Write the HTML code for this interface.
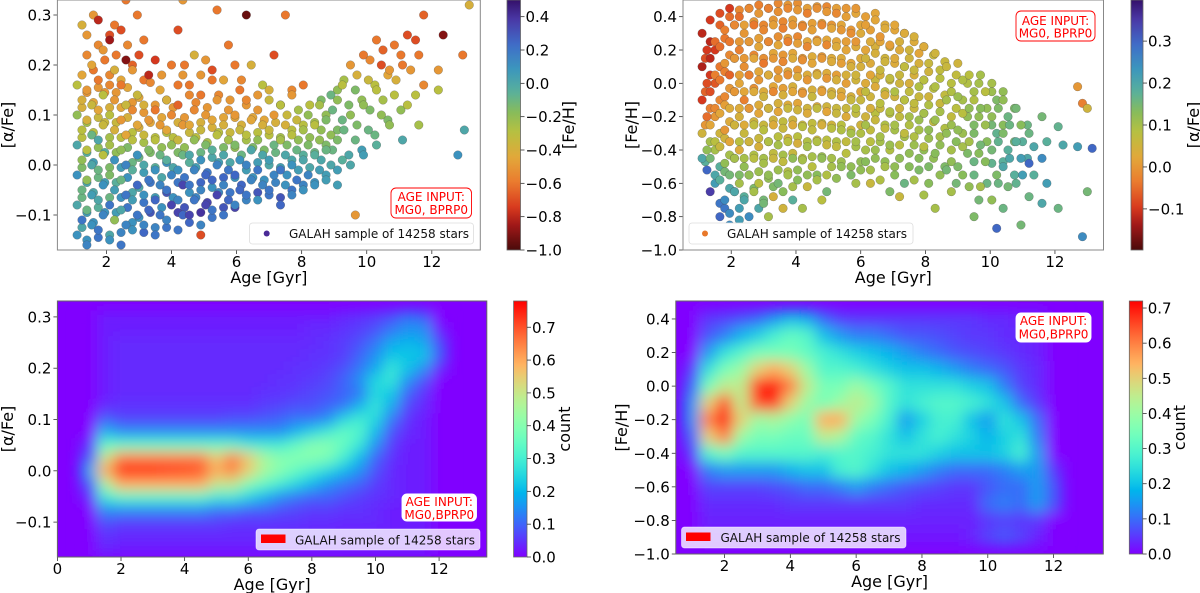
<!DOCTYPE html>
<html><head><meta charset="utf-8">
<style>
html,body{margin:0;padding:0;background:#fff;}
svg{display:block;font-family:"DejaVu Sans","Liberation Sans",sans-serif;}
</style></head>
<body>
<svg id="fig" xmlns="http://www.w3.org/2000/svg" width="1200" height="593" viewBox="0 0 1200 593">
<defs>
<filter id="blur" x="-10%" y="-10%" width="120%" height="120%"><feGaussianBlur stdDeviation="7"/></filter>
<clipPath id="clip1"><rect x="57.4" y="0" width="422.9" height="250"/></clipPath>
<clipPath id="clip2"><rect x="683" y="0" width="420" height="250"/></clipPath>
<clipPath id="clip3"><rect x="57.4" y="301" width="429.4" height="256"/></clipPath>
<clipPath id="clip4"><rect x="675.8" y="301" width="427.5" height="253"/></clipPath>
</defs>
</svg>
<script>
// ---------- DATA ----------
// Panel 1: [alpha/Fe] vs age, coloured by [Fe/H]
const p1ColAge=[1.1,1.4,1.75,2.1,2.45,2.8,3.15,3.5,3.85,4.2,4.55,4.9,5.25,5.6,5.95,6.3,6.65,7.0,7.35,7.7,8.05,8.4,8.75,9.1,9.5,9.9,10.3,10.7,11.1,11.6,12.2,12.8,13.0];
const p1Alpha=[
[-.14,-.11,-.08,-.05,-.02,.01,.04,.07,.1,.13,.16],
[-.16,-.12,-.09,-.06,-.03,0,.03,.06,.09,.12,.15,.2,.26],
[-.13,-.1,-.07,-.04,-.01,.02,.05,.08,.11,.14,.17,.23,.29],
[-.15,-.11,-.08,-.05,-.02,.01,.04,.07,.1,.13,.16,.19,.25,.28],
[-.16,-.12,-.09,-.06,-.03,0,.03,.06,.09,.12,.16,.21,.27,.33],
[-.13,-.1,-.07,-.04,-.01,.02,.05,.08,.11,.14,.19,.3],
[-.12,-.09,-.06,-.03,0,.03,.06,.09,.12,.18,.25],
[-.14,-.1,-.07,-.04,-.01,.02,.05,.08,.11,.15,.21],
[-.11,-.08,-.05,-.02,.01,.04,.07,.1,.13,.2],
[-.13,-.1,-.07,-.04,-.01,.02,.05,.08,.12,.18,.27,.33],
[-.1,-.07,-.04,-.01,.02,.05,.08,.11,.16,.22],
[-.12,-.08,-.05,-.02,.01,.04,.07,.1,.14,.21,-.14],
[-.09,-.06,-.03,0,.03,.06,.09,.13,.19,.31],
[-.1,-.07,-.04,-.01,.02,.05,.08,.11,.17,.24],
[-.08,-.05,-.02,.01,.04,.07,.1,.15],
[-.06,-.03,0,.03,.06,.09,.13,.2,.3],
[-.07,-.04,-.01,.02,.05,.08,.11,.16],
[-.05,-.02,.01,.04,.07,.1,.15,.22],
[-.08,-.04,-.01,.02,.05,.08,.12,.3],
[-.06,-.03,0,.03,.06,.09,.14],
[-.05,-.02,.01,.04,.07,.1,.16],
[-.04,-.01,.02,.05,.08,.12],
[-.03,0,.03,.06,.09,.14],
[-.04,.01,.05,.09,.13,.16],
[0,.05,.1,.15,.2,-.1],
[.02,.07,.12,.17,.22],
[.04,.1,.15,.2,.25],
[.08,.14,.19,.24],
[.05,.12,.2,.26],
[.08,.16,.22,.3],
[.19,.26,.15],
[.02,.22],
[.07,.32]];
const p1Feh=[
[.1,.2,0,-.1,.1,-.2,0,-.3,-.2,-.4,-.3],
[.15,.1,-.1,.05,-.2,0,-.3,-.1,-.4,-.35,-.5,-.45,-.5],
[.2,.15,0,.1,-.1,-.3,0,-.35,-.45,-.3,-.6,-.5,-.8],
[.1,-.2,.2,.05,-.15,.1,-.25,-.4,-.3,-.5,-.55,-.4,-.85,-.6],
[.2,.15,0,.2,-.1,.15,-.2,-.45,-.5,-.35,-.6,-.9,-.7,-.6],
[.1,.2,.05,.25,-.05,.1,-.3,-.45,-.55,-.35,-.5,-.6],
[.15,.25,.1,.2,0,-.15,-.35,-.5,-.4,-.8,-.6],
[.2,.2,.25,.15,.1,-.1,-.3,-.5,-.6,-.45,-.75],
[.15,.35,.2,.15,-.05,-.2,-.45,-.55,-.4,-.6],
[.2,.25,.15,.35,.1,-.1,-.35,-.5,-.65,-.5,-.7,-.5],
[.35,.2,.2,.15,0,-.2,-.45,-.55,-.6,-.4],
[.15,.35,.15,.25,.1,-.15,-.35,-.5,-.6,-.5,-.7],
[.2,.35,.25,.15,-.05,-.3,-.45,-.5,-.7,-.6],
[.2,.25,.15,.2,0,-.25,-.4,-.5,-.45,-.6],
[.15,.25,.25,.1,-.15,-.35,-.5,-.6],
[.2,.15,.15,0,-.3,-.45,-.55,-.4,-.95],
[.1,.15,.2,0,-.2,-.4,-.5,-.3],
[.2,.15,.05,-.1,-.35,-.5,-.4,-.7],
[.25,.1,.2,0,-.25,-.4,-.3,-.6],
[.15,.2,.1,-.1,-.3,-.35,-.5],
[.1,.15,0,-.15,-.25,-.2,-.6],
[.1,.05,-.05,-.2,-.3,-.25],
[.05,0,-.1,-.2,-.15,-.1],
[.05,-.05,-.15,-.1,-.2,-.3],
[0,-.1,-.2,-.15,-.5,-.5],
[.05,-.1,-.2,-.35,-.6],
[-.05,-.2,-.3,-.7,-.6],
[-.2,-.3,-.5,-.6],
[0,-.3,-.6,-.7],
[-.25,-.55,-.6,-.65],
[-.5,-.9,-.3],
[.1,-.6],
[0,-.4]];
const p1ColAgeB=[1.25,1.6,1.95,2.3,2.65,3.0,3.35,3.7,4.05,4.4,4.75,5.1,5.45,5.8,6.15,6.5,6.85,7.2,7.55,7.9,8.25,8.6,8.95,9.3,9.7,10.1,10.5,10.9,11.35];
const p1AlphaB=[
[-.15,-.125,-.095,-.065,-.035,-.005,.025,.055,.085,.115,.145,.18,.22,.28],
[-.145,-.115,-.085,-.055,-.025,.005,.035,.065,.095,.125,.155,.19,.24,.3],
[-.14,-.095,-.065,-.035,-.005,.025,.055,.085,.115,.145,.18,.21,.26],
[-.135,-.095,-.065,-.035,-.005,.025,.055,.085,.115,.145,.17,.22],
[-.115,-.085,-.055,-.025,.005,.035,.065,.095,.125,.155,.2,.24],
[-.135,-.105,-.075,-.045,-.015,.015,.045,.075,.105,.135,.17,.22],
[-.125,-.095,-.065,-.035,-.005,.025,.055,.085,.12,.165],
[-.125,-.085,-.055,-.025,.005,.035,.065,.095,.13,.18],
[-.095,-.065,-.035,-.005,.025,.055,.085,.115,.16],
[-.115,-.085,-.055,-.025,.005,.035,.065,.095,.14,.2],
[-.095,-.065,-.035,-.005,.025,.055,.085,.125,.18],
[-.105,-.075,-.045,-.015,.015,.045,.075,.115,.17],
[-.085,-.055,-.025,.005,.035,.065,.095,.14],
[-.085,-.055,-.025,.005,.035,.065,.095,.13,.2],
[-.07,-.04,-.01,.02,.05,.08,.12,.17],
[-.055,-.025,.005,.035,.065,.095,.14],
[-.06,-.03,0,.03,.06,.09,.13],
[-.065,-.035,-.005,.025,.055,.085,.12],
[-.05,-.02,.01,.04,.07,.1,.15],
[-.04,-.01,.02,.05,.08,.11],
[-.035,-.005,.025,.055,.085,.12],
[-.02,.01,.04,.07,.1,.13],
[-.01,.03,.07,.11,.15],
[.02,.07,.12,.17],
[.03,.08,.13,.18],
[.06,.11,.16,.21],
[.09,.13,.18,.23],
[.11,.17,.22],
[.14,.19,.25]];
const p1FehB=[
[.1,0,.05,-.1,0,-.15,-.05,-.3,-.25,-.4,-.5,-.45,-.55,-.4],
[.2,.1,-.05,0,-.1,.05,-.2,-.3,-.35,-.45,-.5,-.6,-.55,-.5],
[0,.1,-.1,.05,-.15,-.05,-.25,-.35,-.4,-.5,-.55,-.6,-.7],
[.15,.05,.1,-.05,.05,-.2,-.3,-.35,-.45,-.5,-.45,-.6],
[.1,.2,0,.1,-.1,-.15,-.3,-.4,-.5,-.45,-.65,-.55],
[.25,.1,.2,0,.05,-.1,-.25,-.4,-.5,-.45,-.6,-.7],
[.15,.3,.05,.2,-.05,-.15,-.3,-.45,-.5,-.55],
[.2,.1,.3,0,.1,-.2,-.3,-.45,-.55,-.5],
[.35,.1,.2,0,-.15,-.3,-.4,-.5,-.6],
[.25,.3,.1,.2,-.05,-.2,-.35,-.5,-.55,-.6],
[.4,.15,.25,.05,-.1,-.3,-.4,-.55,-.5],
[.2,.35,.1,.2,0,-.25,-.4,-.5,-.6],
[.3,.15,.25,.05,-.15,-.3,-.45,-.55],
[.35,.2,.1,0,-.2,-.35,-.45,-.5,-.6],
[.15,.25,.05,-.1,-.25,-.4,-.5,-.55],
[.3,.1,.05,-.15,-.3,-.45,-.5],
[.2,.1,0,-.15,-.3,-.45,-.35],
[.3,.15,.05,-.1,-.25,-.4,-.3],
[.2,.1,0,-.15,-.3,-.35,-.55],
[.15,.05,-.05,-.2,-.3,-.25],
[.1,0,-.1,-.2,-.25,-.3],
[.05,0,-.15,-.2,-.2,-.15],
[.05,-.1,-.15,-.1,-.2],
[0,-.1,-.15,-.25],
[.05,-.15,-.2,-.4],
[-.1,-.15,-.3,-.55],
[-.15,-.25,-.45,-.65],
[-.2,-.4,-.6],
[-.3,-.5,-.7]];
// Panel 2: [Fe/H] vs age, coloured by [alpha/Fe]
const p2ColAge=[1.1,1.35,1.65,1.95,2.25,2.55,2.85,3.15,3.45,3.75,4.05,4.35,4.65,4.95,5.25,5.55,5.85,6.15,6.45,6.75,7.05,7.35,7.65,7.95,8.3,8.65,9.0,9.35,9.7,10.05,10.4,10.8,11.2,11.6,12.1,12.7,13.0];
const p2Feh=[
[.3,.2,.1,0,-.1,-.2,-.3,-.4,-.45,-.52],
[.38,.25,.15,.05,-.05,-.15,-.25,-.35,-.45,-.55,-.65],
[.42,.32,.22,.12,.02,-.08,-.18,-.28,-.38,-.48,-.58,-.7,-.8],
[.45,.35,.25,.15,.05,-.05,-.15,-.25,-.35,-.45,-.55,-.65,-.78,-.93],
[.4,.3,.2,.1,0,-.1,-.2,-.3,-.4,-.5,-.6,-.7,-.82],
[.45,.35,.25,.15,.05,-.05,-.15,-.25,-.35,-.45,-.55,-.65,-.8],
[.42,.32,.22,.12,.02,-.08,-.18,-.28,-.38,-.48,-.6,-.72],
[.45,.35,.25,.15,.05,-.05,-.15,-.25,-.35,-.45,-.55,-.68,-.8],
[.43,.33,.23,.13,.03,-.07,-.17,-.27,-.37,-.47,-.6,-.75],
[.45,.35,.25,.15,.05,-.05,-.15,-.25,-.35,-.45,-.55,-.7],
[.44,.34,.24,.14,.04,-.06,-.16,-.26,-.36,-.46,-.58,-.75],
[.42,.32,.22,.12,.02,-.08,-.18,-.28,-.38,-.5,-.62],
[.45,.35,.25,.15,.05,-.05,-.15,-.25,-.35,-.45,-.58,-.7],
[.43,.33,.23,.13,.03,-.07,-.17,-.27,-.37,-.5,-.65],
[.42,.32,.22,.12,.02,-.08,-.18,-.28,-.38,-.5],
[.4,.3,.2,.1,0,-.1,-.2,-.3,-.42,-.55],
[.45,.35,.25,.15,.05,-.05,-.15,-.25,-.35,-.47,-.6],
[.35,.25,.15,.05,-.05,-.15,-.25,-.35,-.47,-.6],
[.38,.28,.18,.08,-.02,-.12,-.22,-.32,-.45,-.58],
[.33,.23,.13,.03,-.07,-.17,-.27,-.37,-.5,-.65],
[.35,.25,.15,.05,-.05,-.15,-.25,-.37,-.5,-.68],
[.3,.2,.1,0,-.1,-.2,-.3,-.42,-.6],
[.28,.18,.08,-.02,-.12,-.22,-.32,-.45,-.58],
[.22,.12,.02,-.08,-.18,-.28,-.38,-.5,-.67],
[.18,.08,-.02,-.12,-.22,-.32,-.42,-.55,-.75],
[.1,0,-.1,-.2,-.3,-.4,-.52,-.65],
[.12,.02,-.08,-.18,-.28,-.38,-.5],
[.05,-.05,-.15,-.25,-.35,-.47,-.62,-.8],
[.05,-.05,-.15,-.25,-.37,-.47,-.62],
[0,-.1,-.2,-.3,-.4,-.55,-.7,-.87],
[-.1,-.2,-.3,-.4,-.5,-.62,-.75],
[-.15,-.25,-.35,-.45,-.6,-.85],
[-.3,-.38,-.48,-.55,-.68],
[-.2,-.35,-.45,-.6,-.72],
[-.26,-.37,-.75],
[-.02,-.12,-.38,-.92],
[-.15,-.39,-.65]];
const p2Alpha=[
[-.12,-.1,-.13,-.08,-.1,-.05,.05,.12,.2,.3],
[-.1,-.05,-.12,-.03,-.08,-.02,.02,.08,.15,.2,.35],
[-.08,-.03,-.05,0,-.04,-.02,.02,0,.06,.12,.18,.25,.3],
[-.1,-.02,-.04,0,-.06,0,.03,.05,.02,.1,.15,.2,.25,.15],
[-.05,0,-.03,-.01,.02,-.03,.04,.06,.03,.12,.1,.2,.22],
[-.02,-.04,0,.02,-.03,.03,0,.07,.05,.08,.12,.1,.25],
[0,-.02,.02,-.04,0,.05,.02,.08,.04,.1,.08,.15],
[-.03,.01,-.02,0,.03,-.02,.05,.03,.09,.06,.12,.04,.1],
[-.01,-.03,.02,-.02,.01,.04,.02,.06,.1,.07,.15,.05],
[-.02,0,-.03,.03,-.01,.02,.06,.03,.08,.12,.1,.18],
[0,-.02,.01,-.01,.03,0,.05,.08,.04,.1,.13,.1],
[-.03,.01,-.02,.02,0,.06,.03,.07,.1,.08,.06],
[-.01,-.02,.02,0,.04,.01,.07,.04,.09,.12,.1,.08],
[0,.02,-.02,.03,0,.05,.02,.08,.06,.1,.15],
[-.02,0,.03,.01,.04,.02,.06,.09,.07,.12],
[.01,-.01,.02,.04,.01,.06,.03,.1,.08,.14],
[0,.02,0,.03,.05,.02,.08,.05,.1,.12,.1],
[.01,.03,.05,.02,.07,.04,.1,.08,.13,.06],
[.02,0,.04,.06,.03,.08,.06,.1,.12,.09],
[.03,.01,.05,.07,.04,.09,.07,.11,.1,.14],
[.02,.04,.03,.06,.09,.05,.1,.08,.12,.06],
[.03,.05,.07,.04,.08,.1,.07,.12,.16],
[.04,.02,.06,.09,.07,.11,.09,.13,.1],
[.03,.06,.08,.05,.1,.12,.08,.14,.1],
[.05,.07,.09,.06,.11,.1,.13,.12,.1],
[.06,.08,.1,.07,.12,.1,.15,.1],
[.05,.09,.11,.08,.12,.1,.14],
[.08,.1,.12,.14,.1,.16,.12,.14],
[.1,.08,.13,.11,.15,.13,.1],
[.1,.14,.12,.17,.15,.14,.12,.3],
[.12,.16,.14,.18,.2,.15,.16],
[.15,.13,.18,.22,.17,.15],
[.16,.2,.3,.18,.16],
[.15,.18,.25,.22,.2],
[.17,.2,.16],
[0,-.03,.22,.25],
[.05,.3,.15]];
const p2ColAgeB=[1.2,1.5,1.8,2.1,2.4,2.7,3.0,3.3,3.6,3.9,4.2,4.5,4.8,5.1,5.4,5.7,6.0,6.3,6.6,6.9,7.2,7.5,7.8,8.1,8.45,8.8,9.15,9.5,9.9,10.25,10.6,11.0];
const p2FehB=[
[.25,.15,.05,-.05,-.15,-.25,-.35,-.47],
[.35,.2,.1,0,-.1,-.2,-.3,-.4,-.5,-.6,-.72],
[.4,.27,.17,.07,-.03,-.13,-.23,-.33,-.43,-.53,-.63,-.75,-.85],
[.44,.35,.25,.15,.05,-.05,-.15,-.25,-.35,-.45,-.55,-.65,-.75],
[.45,.35,.25,.15,.05,-.05,-.15,-.25,-.35,-.45,-.55,-.68],
[.47,.37,.27,.17,.07,-.03,-.13,-.23,-.33,-.43,-.53,-.63,-.75],
[.45,.35,.25,.15,.05,-.05,-.15,-.25,-.35,-.45,-.57,-.7],
[.48,.38,.28,.18,.08,-.02,-.12,-.22,-.32,-.42,-.52,-.62],
[.47,.37,.27,.17,.07,-.03,-.13,-.23,-.33,-.43,-.53,-.65],
[.48,.38,.28,.18,.08,-.02,-.12,-.22,-.32,-.42,-.52,-.62],
[.45,.35,.25,.15,.05,-.05,-.15,-.25,-.35,-.45,-.55],
[.46,.36,.26,.16,.06,-.04,-.14,-.24,-.34,-.44,-.55],
[.46,.36,.26,.16,.06,-.04,-.14,-.24,-.34,-.44,-.55],
[.45,.35,.25,.15,.05,-.05,-.15,-.25,-.35,-.45,-.57],
[.45,.35,.25,.15,.05,-.05,-.15,-.25,-.35,-.47],
[.42,.32,.22,.12,.02,-.08,-.18,-.28,-.38,-.5],
[.4,.3,.2,.1,0,-.1,-.2,-.3,-.4,-.52],
[.42,.32,.22,.12,.02,-.08,-.18,-.28,-.4,-.52],
[.35,.25,.15,.05,-.05,-.15,-.25,-.35,-.47],
[.32,.22,.12,.02,-.08,-.18,-.28,-.4,-.55],
[.3,.2,.1,0,-.1,-.2,-.32,-.45],
[.25,.15,.05,-.05,-.15,-.25,-.37,-.5],
[.22,.12,.02,-.08,-.18,-.28,-.4,-.52],
[.17,.07,-.03,-.13,-.23,-.33,-.45,-.6],
[.13,.03,-.07,-.17,-.27,-.37,-.5],
[.05,-.05,-.15,-.25,-.35,-.47,-.6],
[0,-.1,-.2,-.3,-.42,-.55],
[0,-.1,-.2,-.3,-.42,-.55,-.7],
[-.05,-.15,-.25,-.35,-.48,-.6],
[-.05,-.15,-.25,-.35,-.47,-.6],
[-.15,-.25,-.35,-.45,-.55],
[-.25,-.35,-.45,-.55]];
const p2AlphaB=[
[-.12,-.08,-.1,-.06,-.03,0,.1,.18],
[-.06,-.1,-.04,-.07,-.02,0,.05,.1,.18,.22,.28],
[-.05,-.04,-.02,-.03,0,.01,.03,.05,.1,.15,.2,.28,.25],
[-.02,-.03,0,-.02,.01,-.01,.03,.05,.08,.1,.14,.18,.22],
[-.01,.01,-.02,0,-.01,.02,.04,.03,.07,.1,.12,.18],
[-.03,0,.01,-.02,.02,-.01,.03,.05,.06,.09,.11,.14,.2],
[0,-.02,.02,-.01,.01,.03,0,.06,.05,.1,.12,.15],
[-.02,0,-.01,.02,0,.02,.04,.05,.08,.07,.11,.14],
[0,-.02,.01,0,.02,.01,.03,.07,.05,.1,.09,.13],
[-.01,.01,-.02,.02,0,.04,.02,.05,.08,.06,.12,.1],
[.01,-.01,.02,0,.03,.01,.05,.06,.09,.08,.12],
[0,.01,-.01,.03,.02,.04,.03,.07,.06,.1,.13],
[-.02,.01,.02,0,.03,.02,.05,.06,.08,.11,.09],
[.01,0,.02,.03,.01,.04,.06,.05,.09,.1,.12],
[0,.02,.01,.03,.04,.03,.06,.08,.07,.11],
[.02,0,.03,.02,.05,.04,.07,.06,.1,.12],
[.01,.03,.02,.04,.03,.06,.05,.09,.1,.12],
[.02,.01,.04,.03,.06,.05,.08,.07,.11,.1],
[.03,.02,.05,.04,.07,.06,.09,.1,.12],
[.02,.04,.03,.06,.05,.08,.1,.09,.13],
[.04,.03,.06,.05,.08,.07,.1,.12],
[.03,.05,.04,.07,.06,.09,.11,.13],
[.05,.04,.07,.06,.09,.1,.12,.14],
[.06,.05,.08,.09,.07,.11,.12,.13],
[.06,.08,.07,.1,.09,.12,.14],
[.07,.09,.08,.11,.13,.12,.15],
[.09,.1,.12,.11,.14,.13],
[.1,.09,.12,.14,.13,.16,.15],
[.11,.12,.15,.13,.17,.16],
[.12,.14,.13,.17,.18,.16],
[.14,.16,.15,.2,.18],
[.16,.18,.2,.22]];
// Panel 3 density grid: rows are alpha values, columns are ages
const p3Ages=[1,1.5,2,2.5,3,3.5,4,4.5,5,5.5,6,6.5,7,7.5,8,8.5,9,9.5,10,10.5,11,11.5,12];
const p3Alphas=[.3,.275,.25,.225,.2,.175,.15,.125,.1,.075,.05,.025,0,-.025,-.05,-.075,-.1,-.125,-.15];
const p3Density=[
[0,.03,.03,.03,.03,.03,.03,.03,.03,.03,.03,.03,.03,.03,.03,.03,.04,.05,.06,.08,.12,.1,0],
[0,.03,.03,.03,.03,.03,.03,.03,.03,.03,.03,.03,.03,.03,.04,.04,.05,.06,.08,.12,.15,.15,.03],
[0,.03,.04,.04,.04,.04,.04,.04,.04,.04,.04,.04,.04,.04,.04,.05,.06,.08,.12,.18,.2,.18,.08],
[0,.03,.04,.04,.04,.04,.04,.04,.04,.04,.04,.04,.04,.04,.05,.05,.06,.1,.15,.22,.22,.22,.1],
[0,.03,.04,.04,.04,.04,.04,.04,.04,.04,.04,.04,.04,.05,.05,.06,.08,.12,.18,.28,.22,.15,.04],
[0,.03,.04,.04,.04,.04,.04,.04,.04,.04,.04,.04,.05,.05,.06,.07,.1,.15,.25,.28,.15,.08,0],
[0,.03,.04,.04,.04,.04,.04,.04,.04,.04,.04,.05,.05,.06,.07,.08,.1,.12,.25,.22,.1,.05,0],
[0,.04,.05,.05,.05,.05,.05,.05,.05,.05,.05,.06,.07,.08,.08,.1,.12,.2,.28,.18,.07,.04,0],
[0,.1,.07,.07,.07,.07,.07,.07,.07,.08,.08,.09,.1,.12,.12,.15,.25,.3,.25,.12,.05,.03,0],
[0,.2,.15,.15,.15,.15,.15,.15,.15,.15,.15,.15,.15,.2,.25,.3,.35,.32,.2,.08,.04,.03,0],
[.05,.35,.35,.35,.35,.35,.35,.35,.35,.35,.3,.3,.3,.35,.4,.4,.35,.28,.15,.06,.03,.03,0],
[.1,.5,.65,.65,.65,.65,.65,.65,.55,.65,.55,.45,.4,.4,.4,.38,.3,.2,.1,.05,.03,.03,0],
[.2,.6,.75,.75,.75,.73,.72,.7,.6,.65,.55,.45,.4,.35,.3,.25,.2,.15,.08,.04,.03,.03,0],
[.1,.45,.6,.6,.6,.6,.6,.6,.5,.5,.4,.35,.3,.25,.2,.15,.12,.1,.06,.04,.03,.03,0],
[.04,.3,.35,.35,.35,.35,.35,.35,.3,.3,.25,.2,.15,.12,.1,.1,.08,.06,.05,.04,.03,.03,0],
[0,.15,.15,.15,.15,.15,.15,.15,.12,.12,.1,.1,.08,.07,.06,.06,.05,.05,.04,.03,.03,.03,0],
[0,.08,.06,.06,.06,.06,.06,.06,.06,.05,.05,.05,.05,.05,.04,.04,.04,.04,.04,.03,.03,.03,0],
[0,.05,.04,.04,.04,.04,.04,.04,.04,.04,.04,.04,.04,.04,.04,.04,.03,.03,.03,.03,.03,.03,0],
[0,.04,.03,.03,.03,.03,.03,.03,.03,.03,.03,.03,.03,.03,.03,.03,.03,.03,.03,.03,.03,.03,0]];
// Panel 4 density grid
const p4Ages=[1,1.5,2,2.5,3,3.5,4,4.5,5,5.5,6,6.5,7,7.5,8,8.5,9,9.5,10,10.5,11,11.5,12];
const p4Fehs=[.4,.3,.2,.1,0,-.1,-.2,-.3,-.4,-.5,-.6,-.7,-.8,-.9];
const p4Density=[
[0,.05,.06,.08,.1,.15,.2,.18,.1,.06,.05,.05,.05,.05,.05,.05,.05,.05,.04,.04,.03,.03,0],
[0,.08,.12,.18,.22,.28,.32,.3,.2,.15,.12,.12,.1,.08,.08,.07,.06,.05,.05,.04,.04,.03,0],
[0,.15,.25,.3,.35,.35,.35,.32,.28,.25,.22,.2,.18,.15,.12,.1,.08,.07,.06,.05,.04,.03,0],
[.05,.25,.35,.4,.5,.55,.5,.4,.3,.3,.28,.25,.22,.2,.2,.18,.15,.12,.1,.08,.05,.04,0],
[.1,.35,.45,.45,.68,.72,.6,.45,.35,.35,.4,.35,.3,.25,.25,.25,.25,.22,.2,.12,.06,.04,0],
[.15,.5,.65,.45,.65,.68,.5,.4,.35,.4,.45,.4,.3,.25,.28,.3,.3,.28,.25,.2,.1,.05,0],
[.15,.6,.72,.5,.4,.42,.38,.35,.55,.55,.4,.35,.28,.15,.22,.28,.28,.2,.15,.25,.2,.1,0],
[.1,.5,.6,.4,.35,.35,.33,.33,.45,.42,.32,.3,.25,.2,.25,.28,.25,.22,.18,.22,.25,.12,0],
[.05,.3,.35,.3,.3,.3,.3,.3,.28,.3,.3,.28,.25,.25,.25,.22,.2,.2,.2,.22,.28,.15,0],
[0,.12,.15,.15,.15,.15,.18,.2,.2,.28,.3,.25,.2,.18,.15,.12,.1,.1,.1,.12,.15,.15,.05],
[0,.06,.06,.06,.06,.07,.08,.1,.1,.12,.15,.12,.1,.08,.07,.06,.05,.05,.08,.1,.1,.15,.08],
[0,.04,.04,.04,.04,.04,.05,.05,.05,.05,.05,.05,.05,.05,.04,.04,.04,.04,.1,.12,.1,.15,.08],
[0,.03,.03,.03,.03,.03,.03,.03,.03,.03,.03,.03,.03,.03,.03,.03,.03,.03,.05,.06,.05,.05,0],
[0,.02,.02,.02,.02,.02,.02,.02,.02,.02,.02,.02,.02,.02,.02,.02,.02,.03,.06,.08,.06,.03,0]];
// tick labels
const ageTicks=[2,4,6,8,10,12];
const ageTicks3=[0,2,4,6,8,10,12];
const alphaTicks=[-0.1,0,0.1,0.2,0.3];
const fehTicks=[-1.0,-0.8,-0.6,-0.4,-0.2,0,0.2,0.4];
const cb1Ticks=[-1.0,-0.8,-0.6,-0.4,-0.2,0,0.2,0.4];
const cb2Ticks=[-0.1,0,0.1,0.2,0.3];
const cb3Ticks=[0,0.1,0.2,0.3,0.4,0.5,0.6,0.7];
const cb4Ticks=[0,0.1,0.2,0.3,0.4,0.5,0.6,0.7];

// ---------- HELPERS ----------
const NS='http://www.w3.org/2000/svg';
const svg=document.getElementById('fig');
function mk(tag,attrs,parent){const e=document.createElementNS(NS,tag);for(const k in attrs)e.setAttribute(k,attrs[k]);(parent||svg).appendChild(e);return e;}
function lin(d0,d1,r0,r1){return v=>r0+(v-d0)*(r1-r0)/(d1-d0);}
function fmt(v,dec){const s=Math.abs(v).toFixed(dec);return (v<-1e-9?'\u2212':'')+s;}
const scStops=[[0,[74,10,10]],[.1,[160,24,24]],[.17,[216,58,30]],[.27,[234,122,46]],[.37,[226,168,58]],[.47,[184,192,64]],[.55,[136,188,90]],[.63,[90,176,154]],[.72,[60,152,188]],[.82,[63,110,200]],[.92,[74,58,168]],[1,[52,16,106]]];
function scCmap(t){t=Math.max(0,Math.min(1,t));for(let i=1;i<scStops.length;i++){if(t<=scStops[i][0]){const a=scStops[i-1],b=scStops[i];const f=(t-a[0])/(b[0]-a[0]);const c=a[1].map((v,k)=>Math.round(v+(b[1][k]-v)*f));return `rgb(${c})`;}}return 'rgb(52,16,106)';}
function rainbow(t){t=Math.max(0,Math.min(1,t));const r=Math.min(1,Math.abs(2*t-0.5)),g=Math.sin(Math.PI*t),b=Math.cos(Math.PI*t/2);return `rgb(${Math.round(r*255)},${Math.round(g*255)},${Math.round(Math.max(0,b)*255)})`;}

function axes(p){
  const g=mk('g',{});
  
  
  const xs=lin(p.xd[0],p.xd[1],p.x0,p.x1), ys=lin(p.yd[0],p.yd[1],p.y0,p.y1);
  p.xticks.forEach(v=>{const x=xs(v);
    const t=mk('line',{x1:x,x2:x,y1:p.y1,y2:p.y1+4,stroke:'#333','stroke-width':0.8},g);
    
    
    const l=mk('text',{x:x,y:p.y1+17,'font-size':15,'text-anchor':'middle',fill:'#000'},g);l.textContent=fmt(v,0);
    
    });
  p.yticks.forEach(v=>{const y=ys(v);
    const t=mk('line',{x1:p.x0-4,x2:p.x0,y1:y,y2:y,stroke:'#333','stroke-width':0.8},g);
    
    
    const l=mk('text',{x:p.x0-6,y:y+5.5,'font-size':15,'text-anchor':'end',fill:'#000'},g);l.textContent=fmt(v,1);
    
    });
  const xl=mk('text',{x:(p.x0+p.x1)/2,y:p.y1+33,'font-size':16,'text-anchor':'middle'},g);xl.textContent=p.xlabel;
  
  
  const yc=(p.y0+p.y1)/2;
  const yl=mk('text',{x:p.ylx,y:yc,'font-size':16,'text-anchor':'middle',transform:`rotate(-90 ${p.ylx} ${yc})`},g);yl.textContent=p.ylabel;
  
  
  return {xs,ys};
}
function frame(p,col){const f=mk('rect',{x:p.x0,y:p.y0,width:p.x1-p.x0,height:p.y1-p.y0,fill:'none',stroke:col,'stroke-width':1});
  
  }
function colorbar(c){
  const id='grad-'+c.name;
  const defs=svg.querySelector('defs');
  const lg=mk('linearGradient',{id:id,x1:0,y1:1,x2:0,y2:0},defs);
  for(let i=0;i<=40;i++){const t=i/40;mk('stop',{offset:t,'stop-color':c.cmap(t)},lg);}
  const g=mk('g',{});
  
  
  const r=mk('rect',{x:c.x0,y:c.y0,width:c.x1-c.x0,height:c.y1-c.y0,fill:`url(#${id})`,stroke:'#666','stroke-width':0.8},g);
  
  
  const s=lin(c.d[0],c.d[1],c.y1,c.y0);
  c.ticks.forEach(v=>{const y=s(v);
    const t=mk('line',{x1:c.x1,x2:c.x1+4,y1:y,y2:y,stroke:'#333','stroke-width':0.8},g);
    
    
    const l=mk('text',{x:c.x1+5,y:y+5.5,'font-size':15,fill:'#000'},g);l.textContent=fmt(v,1);
    
    });
  const yc=(c.y0+c.y1)/2;
  const lab=mk('text',{x:c.lx,y:yc,'font-size':16,'text-anchor':'middle',transform:`rotate(-90 ${c.lx} ${yc})`},g);lab.textContent=c.label;
  
  
}
function scatter(cols,vals,cvals,xs,ys,cnorm,clip,name,shift){
  const g=mk('g',{'clip-path':`url(#${clip})`});
  
  
  cols.forEach((age,i)=>{vals[i].forEach((v,j)=>{
    const c=mk('circle',{cx:xs(age+((j+shift)%2)*0.15),cy:ys(v),r:4.3,fill:scCmap(cnorm(cvals[i][j])),stroke:'rgba(70,70,70,0.5)','stroke-width':0.5},g);
    
    
  });});
}
function heatmap(ages,ys_,grid,xs,ys,vmax,clip,p,name){
  const outer=mk('g',{'clip-path':`url(#${clip})`});
  
  
  const bg=mk('rect',{x:p.x0,y:p.y0,width:p.x1-p.x0,height:p.y1-p.y0,fill:rainbow(0)},outer);
  
  
  const inner=mk('g',{filter:'url(#blur)'},outer);
  const dx=ages[1]-ages[0], dy=Math.abs(ys_[0]-ys_[1]);
  grid.forEach((row,i)=>row.forEach((v,j)=>{
    const xa=xs(ages[j]-dx/2), xb=xs(ages[j]+dx/2), ya=ys(ys_[i]+dy/2), yb=ys(ys_[i]-dy/2);
    const r=mk('rect',{x:xa,y:ya,width:xb-xa+0.5,height:yb-ya+0.5,fill:rainbow(v/vmax)},inner);
    
    
  }));
}
function legend(o){
  const g=mk('g',{});
  
  
  const b=mk('rect',{x:o.x,y:o.y,width:o.w,height:o.h,rx:3,fill:o.bg,stroke:o.stroke,'stroke-width':0.8},g);
  
  
  if(o.dot){const d=mk('circle',{cx:o.mx,cy:o.y+o.h/2,r:3,fill:o.dot},g);
    
    }
  else{const d=mk('rect',{x:o.mx,y:o.y+5.5,width:24.5,height:8.5,fill:'#ff0000'},g);
    
    }
  const t=mk('text',{x:o.tx,y:o.ty,'font-size':12,textLength:180,lengthAdjust:'spacingAndGlyphs',fill:'#111'},g);t.textContent='GALAH sample of 14258 stars';
  
  
}
function note(o){
  const g=mk('g',{});
  
  
  const b=mk('rect',{x:o.x,y:o.y,width:o.w,height:o.h,rx:5,fill:'#fff',stroke:o.stroke,'stroke-width':0.9},g);
  
  
  const cx=o.x+o.w/2;
  const t1=mk('text',{x:cx,y:o.b1,'font-size':12,'text-anchor':'middle',fill:'#ff0000'},g);t1.textContent='AGE INPUT:';
  
  
  const t2=mk('text',{x:cx,y:o.b2,'font-size':12,'text-anchor':'middle',fill:'#ff0000'},g);t2.textContent=o.l2;
  
  
}

// ---------- PANEL 1 ----------
const P1={name:'alpha-age-scatter',x0:57.4,x1:480.3,y0:0,y1:250,xd:[0.494,13.49],yd:[0.33,-0.17],xticks:ageTicks,yticks:alphaTicks,xlabel:'Age [Gyr]',ylabel:'[\u03b1/Fe]',ylx:13};
const a1=axes(P1);
scatter(p1ColAgeB,p1AlphaB,p1FehB,a1.xs,a1.ys,lin(-1.0,0.5,0,1),'clip1','alpha-scatter-points-b',1);
scatter(p1ColAge,p1Alpha,p1Feh,a1.xs,a1.ys,lin(-1.0,0.5,0,1),'clip1','alpha-scatter-points',0);
frame(P1,'#888');
legend({name:'legend-panel1',x:249.5,y:223,w:224,h:21,bg:'#fff',stroke:'#ddd',dot:'#4a2a96',mx:266.7,tx:289,ty:238});
note({name:'age-input-note-1',x:391,y:188,w:80.5,h:30,stroke:'#ff0000',b1:201,b2:214,l2:'MG0, BPRP0'});
colorbar({name:'feh-colorbar',x0:507,x1:520.5,y0:0,y1:250,d:[-1.0,0.5],ticks:cb1Ticks,cmap:scCmap,label:'[Fe/H]',lx:574});

// ---------- PANEL 2 ----------
const P2={name:'feh-age-scatter',x0:683,x1:1103.5,y0:0,y1:250,xd:[0.51,13.5],yd:[0.5,-1.0],xticks:ageTicks,yticks:fehTicks,xlabel:'Age [Gyr]',ylabel:'[Fe/H]',ylx:637};
const a2=axes(P2);
scatter(p2ColAgeB,p2FehB,p2AlphaB,a2.xs,a2.ys,lin(-0.2,0.4,0,1),'clip2','feh-scatter-points-b',1);
scatter(p2ColAge,p2Feh,p2Alpha,a2.xs,a2.ys,lin(-0.2,0.4,0,1),'clip2','feh-scatter-points',0);
frame(P2,'#888');
legend({name:'legend-panel2',x:689,y:223,w:224,h:21,bg:'#fff',stroke:'#ddd',dot:'#e8782a',mx:705,tx:727,ty:238});
note({name:'age-input-note-2',x:1016,y:11,w:79,h:30,stroke:'#ff0000',b1:25,b2:37.5,l2:'MG0, BPRP0'});
colorbar({name:'alpha-colorbar',x0:1131,x1:1143,y0:0,y1:250,d:[-0.198,0.398],ticks:cb2Ticks,cmap:scCmap,label:'[\u03b1/Fe]',lx:1199});

// ---------- PANEL 3 ----------
const P3={name:'alpha-age-density',x0:57.4,x1:486.8,y0:301,y1:557,xd:[0,13.5],yd:[0.331,-0.168],xticks:ageTicks3,yticks:alphaTicks,xlabel:'Age [Gyr]',ylabel:'[\u03b1/Fe]',ylx:13};
const a3=axes(P3);
heatmap(p3Ages,p3Alphas,p3Density,a3.xs,a3.ys,0.78,'clip3',P3,'alpha-density-map');
frame(P3,'#666');
legend({name:'legend-panel3',x:256,y:529,w:224,h:21,bg:'rgba(255,255,255,0.78)',stroke:'rgba(255,255,255,0.6)',dot:null,mx:261,tx:295,ty:544.5});
note({name:'age-input-note-3',x:402,y:494,w:74.5,h:27,stroke:'#fff',b1:506,b2:519,l2:'MG0,BPRP0'});
colorbar({name:'count-colorbar-3',x0:513.6,x1:527,y0:301,y1:557,d:[0,0.78],ticks:cb3Ticks,cmap:rainbow,label:'count',lx:570});

// ---------- PANEL 4 ----------
const P4={name:'feh-age-density',x0:675.8,x1:1103.3,y0:301,y1:554,xd:[0.52,13.51],yd:[0.507,-1.0],xticks:ageTicks,yticks:fehTicks,xlabel:'Age [Gyr]',ylabel:'[Fe/H]',ylx:627};
const a4=axes(P4);
heatmap(p4Ages,p4Fehs,p4Density,a4.xs,a4.ys,0.72,'clip4',P4,'feh-density-map');
frame(P4,'#666');
legend({name:'legend-panel4',x:681.5,y:527,w:224.5,h:21,bg:'rgba(255,255,255,0.78)',stroke:'rgba(255,255,255,0.6)',dot:null,mx:686,tx:720.5,ty:542});
note({name:'age-input-note-4',x:1016,y:313,w:75,h:29,stroke:'#fff',b1:325,b2:338.5,l2:'MG0,BPRP0'});
colorbar({name:'count-colorbar-4',x0:1129.3,x1:1142.7,y0:301,y1:554,d:[0,0.72],ticks:cb4Ticks,cmap:rainbow,label:'count',lx:1185});
</script>
</body></html>
